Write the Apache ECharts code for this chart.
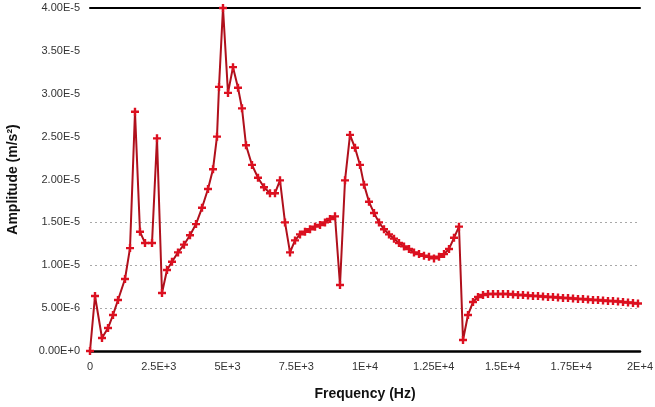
<!DOCTYPE html>
<html>
<head>
<meta charset="utf-8">
<script src="https://cdn.jsdelivr.net/npm/echarts@6/dist/echarts.min.js"></script>
<style>html,body{margin:0;padding:0;background:#fff}#c{width:655px;height:407px}</style>
</head>
<body>
<div id="c"></div>
<script>
// Frequency (Hz)
var freq = [0,182,436,655,836,1018,1273,1455,1636,1818,2000,2255,2436,2618,2800,2982,3200,3418,3636,3855,4073,4291,4473,4618,4691,4836,5018,5200,5382,5527,5673,5891,6109,6327,6545,6727,6909,7091,7273,7455,7636,7818,8000,8182,8364,8545,8727,8909,9091,9273,9455,9636,9818,9964,10145,10327,10509,10691,10873,11055,11236,11418,11600,11782,11964,12145,12327,12509,12691,12873,13055,13236,13418,13564,13745,13927,14109,14291,14473,14655,14836,15018,15200,15382,15564,15745,15927,16109,16291,16473,16655,16836,17018,17200,17382,17564,17745,17927,18109,18291,18473,18655,18836,19018,19200,19382,19564,19745,19927];
// Amplitude (m/s^2)
var amp = [0,6.41e-6,1.52e-6,2.68e-6,4.20e-6,5.95e-6,8.40e-6,1.20e-5,2.79e-5,1.39e-5,1.26e-5,1.26e-5,2.48e-5,6.76e-6,9.45e-6,1.04e-5,1.15e-5,1.24e-5,1.35e-5,1.48e-5,1.67e-5,1.89e-5,2.12e-5,2.50e-5,3.08e-5,4.00e-5,3.01e-5,3.31e-5,3.07e-5,2.83e-5,2.40e-5,2.17e-5,2.02e-5,1.91e-5,1.84e-5,1.84e-5,1.99e-5,1.50e-5,1.15e-5,1.29e-5,1.36e-5,1.39e-5,1.42e-5,1.45e-5,1.47e-5,1.50e-5,1.54e-5,1.57e-5,7.70e-6,1.99e-5,2.52e-5,2.37e-5,2.17e-5,1.94e-5,1.74e-5,1.61e-5,1.50e-5,1.42e-5,1.36e-5,1.31e-5,1.26e-5,1.22e-5,1.19e-5,1.15e-5,1.13e-5,1.11e-5,1.10e-5,1.08e-5,1.10e-5,1.13e-5,1.19e-5,1.32e-5,1.45e-5,1.28e-6,4.20e-6,5.71e-6,6.30e-6,6.53e-6,6.65e-6,6.65e-6,6.65e-6,6.65e-6,6.65e-6,6.59e-6,6.53e-6,6.53e-6,6.47e-6,6.41e-6,6.41e-6,6.35e-6,6.30e-6,6.30e-6,6.24e-6,6.18e-6,6.18e-6,6.12e-6,6.06e-6,6.06e-6,6.00e-6,5.95e-6,5.95e-6,5.89e-6,5.83e-6,5.83e-6,5.77e-6,5.71e-6,5.65e-6,5.60e-6,5.54e-6];
var xTickStep = 2500, xMax = 20000;
var yTickStep = 5e-6, yMax = 4e-5;

var points = freq.map(function (f, i) { return [f, amp[i]]; });
var plus = 'path://M3.5,0h3v3.5h3.5v3h-3.5v3.5h-3v-3.5h-3.5v-3h3.5z';
var T = 'rgba(0,0,0,0)', G = '#a8a8a8';

var chart = echarts.init(document.getElementById('c'));
chart.setOption({
  animation: false,
  backgroundColor: '#fff',
  grid: { left: 90, right: 15, top: 8, bottom: 56, containLabel: false, outerBoundsMode: 'none' },
  xAxis: [{
    type: 'value', min: 0, max: xMax, interval: xTickStep,
    name: 'Frequency (Hz)', nameLocation: 'middle', nameGap: 36,
    nameTextStyle: { fontFamily: 'Liberation Sans', fontWeight: 'bold', fontSize: 14, color: '#111' },
    axisLine: { show: true, lineStyle: { color: '#000', width: 2.5 } },
    axisTick: { show: false },
    splitLine: { show: false },
    axisLabel: {
      fontFamily: 'Liberation Sans', fontSize: 11, color: '#333', margin: 10,
      formatter: function (v) { return v === 0 ? '0' : Number(v).toExponential().toUpperCase(); }
    }
  }, {
    type: 'value', position: 'top', min: 0, max: xMax, interval: xTickStep,
    axisLine: { show: true, lineStyle: { color: '#000', width: 2 } },
    axisTick: { show: false }, axisLabel: { show: false }, splitLine: { show: false }
  }],
  yAxis: {
    type: 'value', min: 0, max: yMax, interval: yTickStep,
    name: 'Amplitude (m/s²)', nameLocation: 'middle', nameGap: 70,
    nameTextStyle: { fontFamily: 'Liberation Sans', fontWeight: 'bold', fontSize: 14, color: '#111' },
    axisLine: { show: false },
    axisTick: { show: false },
    splitLine: { show: true, lineStyle: { color: [T, G, G, G, T, T, T, T, T], type: [2, 3], width: 1.2 } },
    axisLabel: {
      fontFamily: 'Liberation Sans', fontSize: 11, color: '#333', margin: 10,
      formatter: function (v) { return Number(v).toExponential(2).toUpperCase(); }
    }
  },
  series: [{
    type: 'line',
    data: points,
    symbol: plus,
    symbolSize: 8,
    showAllSymbol: true,
    lineStyle: { color: '#b0101c', width: 2 },
    itemStyle: { color: '#dc1020' },
    z: 3
  }]
});
</script>
</body>
</html>
